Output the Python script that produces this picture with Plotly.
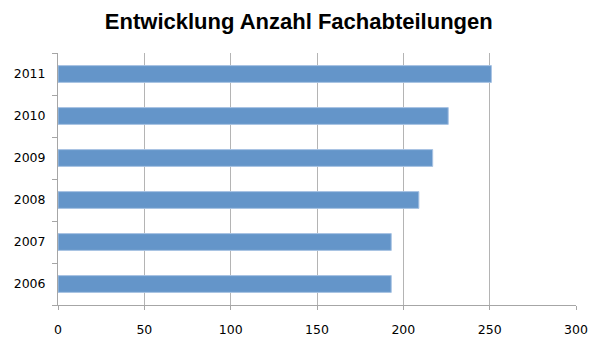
import plotly.graph_objects as go

# Anzahl Fachabteilungen je Jahr
years = ["2006", "2007", "2008", "2009", "2010", "2011"]
counts = [193, 193, 209, 217, 226, 251]
x_ticks = [0, 50, 100, 150, 200, 250, 300]

fig = go.Figure(
    go.Bar(
        x=counts,
        y=years,
        orientation="h",
        width=0.4,
        marker=dict(color="#6495C9", line=dict(color="#A8C3E3", width=1)),
    )
)

fig.update_layout(
    width=600,
    height=348,
    margin=dict(l=58, r=24, t=53, b=43),
    paper_bgcolor="white",
    plot_bgcolor="white",
    showlegend=False,
    title=dict(
        text="<b>Entwicklung Anzahl Fachabteilungen</b>",
        x=0.498,
        xanchor="center",
        y=1 - 21 / 348,
        yanchor="middle",
        font=dict(family="Liberation Sans, Arial, sans-serif", size=22, color="black"),
    ),
    font=dict(family="DejaVu Sans, Verdana, sans-serif", size=12.5, color="black"),
)

fig.update_xaxes(
    range=[0, 300],
    tickvals=x_ticks,
    ticktext=[str(v) for v in x_ticks],
    showgrid=True,
    gridcolor="#B4B4B4",
    gridwidth=1,
    zeroline=False,
    showline=True,
    linecolor="#A6A6A6",
    linewidth=1,
    ticks="outside",
    ticklen=4,
    tickcolor="#A6A6A6",
    tickfont=dict(size=12.5),
    ticklabelstandoff=9,
    fixedrange=True,
)

fig.update_yaxes(
    categoryorder="array",
    categoryarray=years,
    showgrid=False,
    showline=True,
    linecolor="#A6A6A6",
    linewidth=1,
    ticks="outside",
    tickson="boundaries",
    ticklen=5,
    tickcolor="#A6A6A6",
    tickfont=dict(size=12.5),
    ticklabelstandoff=9,
    fixedrange=True,
)

fig.write_html("out.html")
